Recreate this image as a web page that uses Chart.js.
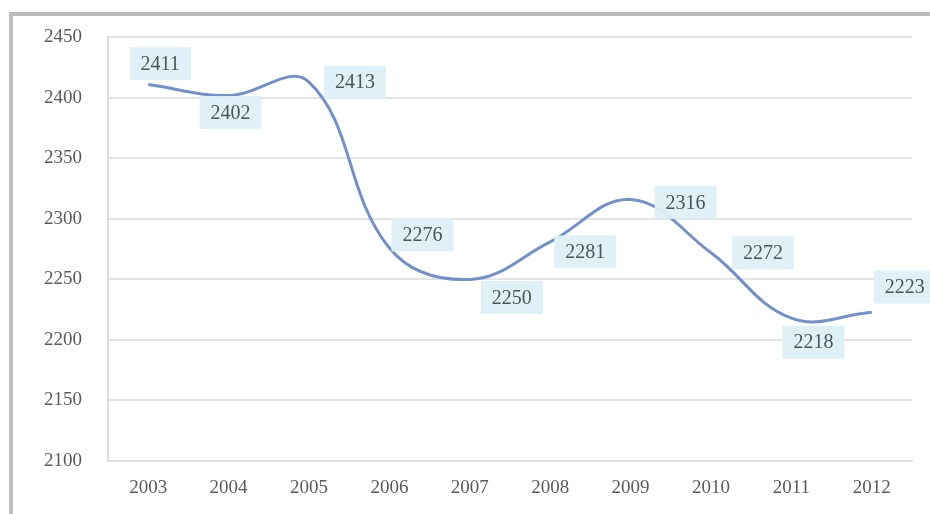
<!DOCTYPE html>
<html>
<head>
<meta charset="utf-8">
<script src="https://cdn.jsdelivr.net/npm/chart.js@4/dist/chart.umd.min.js"></script>
<style>
  html, body { margin: 0; padding: 0; background: #fff; }
  #wrap { position: relative; width: 930px; height: 514px; overflow: hidden; }
  #frame { position: absolute; left: 9px; top: 12px; right: -10px; bottom: -10px;
           border-top: 4px solid #bdbdbd; border-left: 4px solid #bdbdbd; }
  #c { position: absolute; left: 0; top: 0; }
</style>
</head>
<body>
<div id="wrap">
  <div id="frame"></div>
  <canvas id="c" width="930" height="514"></canvas>
</div>
<script>
// ---- data ----
const categories = ['2003', '2004', '2005', '2006', '2007', '2008', '2009', '2010', '2011', '2012'];
const values = [2411, 2402, 2413, 2276, 2250, 2281, 2316, 2272, 2218, 2223];
const yMin = 2100;
const yMax = 2450;
const yStep = 50;

// ---- label placement (styling) ----
const labelOffsets = [
  [12, -21], [2, 17], [46, 0], [33, -13], [42, 18],
  [35, 10], [55, 3], [52, 0], [22, 24], [33, -25]
];

const FONT = '"Liberation Serif", "Times New Roman", serif';

const labelPlugin = {
  id: 'boxLabels',
  afterDatasetsDraw(chart) {
    const ctx = chart.ctx;
    const meta = chart.getDatasetMeta(0);
    ctx.save();
    ctx.font = '20px ' + FONT;
    ctx.textAlign = 'center';
    ctx.textBaseline = 'middle';
    meta.data.forEach((pt, i) => {
      const off = labelOffsets[i] || [0, 0];
      const cx = pt.x + off[0];
      const cy = pt.y + off[1];
      const txt = String(chart.data.datasets[0].data[i]);
      const w = ctx.measureText(txt).width + 22;
      const h = 33;
      ctx.fillStyle = 'rgba(221, 240, 246, 0.95)';
      ctx.fillRect(cx - w / 2, cy - h / 2, w, h);
      ctx.fillStyle = '#46585a';
      ctx.fillText(txt, cx, cy + 1);
    });
    ctx.restore();
  }
};

new Chart(document.getElementById('c'), {
  type: 'line',
  data: {
    labels: categories,
    datasets: [{
      data: values,
      borderColor: '#7390cc',
      borderWidth: 3,
      tension: 0.4,
      pointRadius: 0,
      fill: false
    }]
  },
  options: {
    responsive: false,
    animation: false,
    devicePixelRatio: 1,
    layout: { padding: { top: 37, right: 18, bottom: 0, left: 0 } },
    plugins: { legend: { display: false }, tooltip: { enabled: false } },
    scales: {
      x: {
        offset: true,
        afterFit(scale) { scale.height = 53; },
        grid: { display: false, drawTicks: false },
        border: { display: true, color: '#dcdcdc', width: 2 },
        ticks: {
          padding: 16,
          color: '#5a5a5a',
          font: { family: FONT, size: 19 }
        }
      },
      y: {
        min: yMin,
        max: yMax,
        afterFit(scale) { scale.width = 108; },
        grid: { color: '#e3e3e3', lineWidth: 2, drawTicks: false },
        border: { display: true, color: '#dcdcdc', width: 2 },
        ticks: {
          stepSize: yStep,
          padding: 26,
          color: '#5a5a5a',
          callback: (v) => String(v),
          font: { family: FONT, size: 19 }
        }
      }
    }
  },
  plugins: [labelPlugin]
});
</script>
</body>
</html>
